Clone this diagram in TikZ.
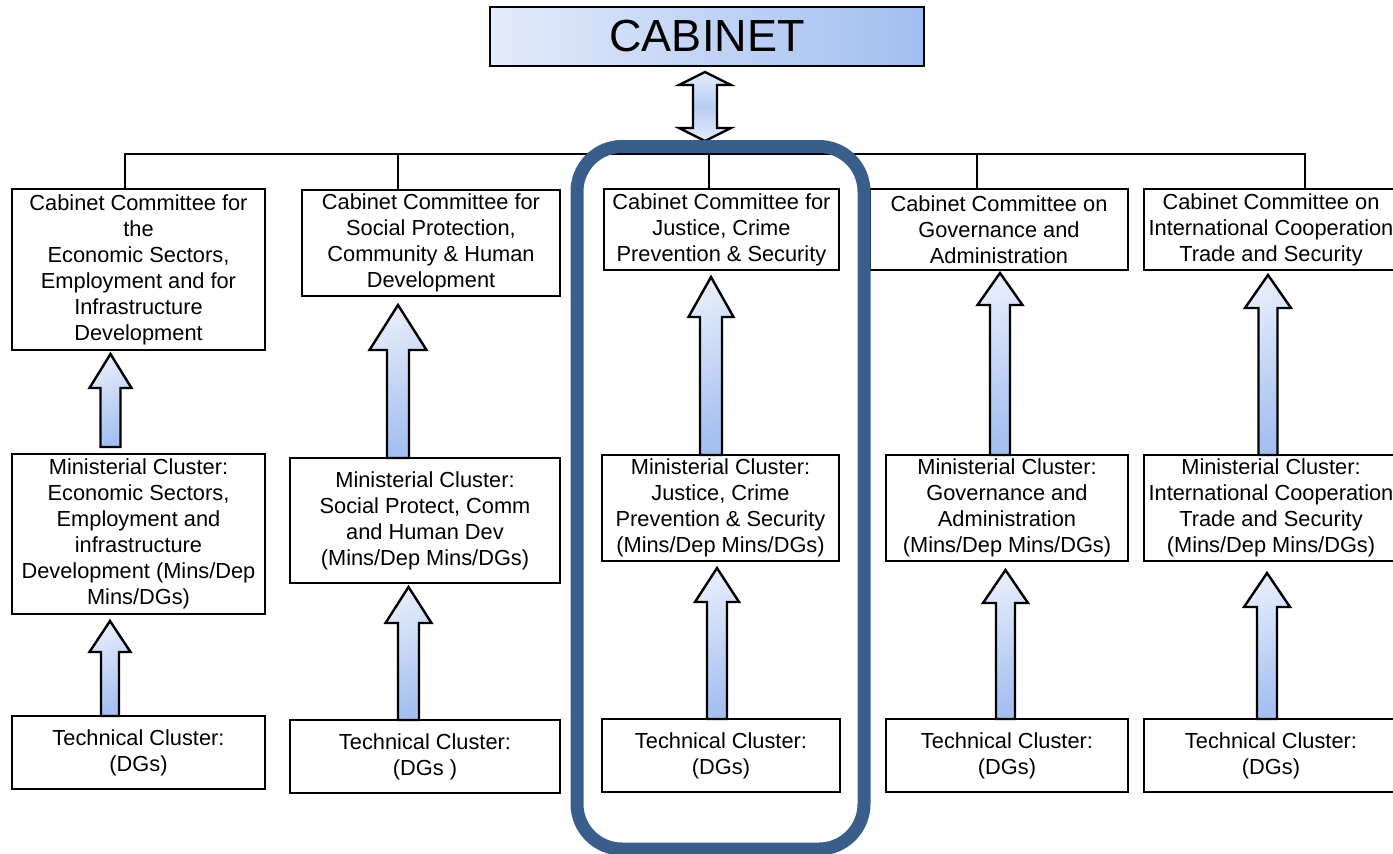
\documentclass[tikz,border=0pt]{standalone}
\usepackage{fontspec}
\setmainfont{Liberation Sans}
\definecolor{arrL}{HTML}{E4ECFB}
\definecolor{arrR}{HTML}{A4BFF0}
\definecolor{frameblue}{HTML}{3A5E8C}
\definecolor{cabL}{HTML}{E2EBFB}
\definecolor{cabR}{HTML}{A2BEF0}
\newcommand{\blockup}[6]{% cx, ytip, ybottom, head half width, shaft half width, head length
  \path[arrowfill] ({#1-#5},{#3}) -- ({#1-#5},{#2+#6}) -- ({#1-#4},{#2+#6}) -- ({#1},{#2})
    -- ({#1+#4},{#2+#6}) -- ({#1+#5},{#2+#6}) -- ({#1+#5},{#3}) -- cycle;}
\begin{document}
\begin{tikzpicture}[x=1pt,y=-1pt,
  box/.style={draw=black, line width=1.8pt, fill=white, inner sep=0pt, align=center,
    font=\fontsize{21.8}{26}\selectfont},
  bus/.style={draw=black, line width=2pt},
  arrowfill/.style={draw=black, line width=2.4pt, line join=miter,
    top color=arrL, bottom color=arrR, shading angle=25},
  focusframe/.style={draw=frameblue, line width=13pt, rounded corners=45pt, inner sep=0pt}]
\useasboundingbox (0,0) rectangle (1393,854);

% Cabinet
\node[draw=black, line width=1.8pt, left color=cabL, right color=cabR, inner sep=0pt,
  minimum width=434pt, minimum height=59pt, font=\fontsize{45}{50}\selectfont] (cab) at (707,36.5) {CABINET};

% Committees
\node[box, minimum width=253pt, minimum height=161pt] (c1) at (138.5,269.5)
  {Cabinet Committee for\\the\\Economic Sectors,\\Employment and for\\Infrastructure\\Development};
\node[box, minimum width=258pt, minimum height=106pt] (c2) at (431,243)
  {Cabinet Committee for\\Social Protection,\\Community \& Human\\Development};
\node[box, minimum width=235pt, minimum height=81pt] (c3) at (721.5,229.5)
  {Cabinet Committee for\\Justice, Crime\\Prevention \& Security};
\node[box, minimum width=258pt, minimum height=81pt] (c4) at (999,229.5)
  {Cabinet Committee on\\Governance and\\Administration};
\node[box, minimum width=254pt, minimum height=81pt] (c5) at (1271,229.5)
  {Cabinet Committee on\\International Cooperation\\Trade and Security};

% Ministerial clusters
\node[box, minimum width=253pt, minimum height=160pt] (m1) at (138.5,534)
  {Ministerial Cluster:\\Economic Sectors,\\Employment and\\infrastructure\\Development (Mins/Dep\\Mins/DGs)};
\node[box, minimum width=270pt, minimum height=125pt] (m2) at (425,520.5)
  {Ministerial Cluster:\\Social Protect, Comm\\and Human Dev\\(Mins/Dep Mins/DGs)};
\node[box, minimum width=237pt, minimum height=106pt] (m3) at (720.5,508)
  {Ministerial Cluster:\\Justice, Crime\\Prevention \& Security\\(Mins/Dep Mins/DGs)};
\node[box, minimum width=242pt, minimum height=106pt] (m4) at (1007,508)
  {Ministerial Cluster:\\Governance and\\Administration\\(Mins/Dep Mins/DGs)};
\node[box, minimum width=254pt, minimum height=106pt] (m5) at (1271,508)
  {Ministerial Cluster:\\International Cooperation\\Trade and Security\\(Mins/Dep Mins/DGs)};

% Technical clusters
\node[box, minimum width=253pt, minimum height=73pt] (t1) at (138.5,752.5) {Technical Cluster:\\(DGs)};
\node[box, minimum width=270pt, minimum height=73pt] (t2) at (425,756.5) {Technical Cluster:\\(DGs )};
\node[box, minimum width=238pt, minimum height=73pt] (t3) at (721,755.5) {Technical Cluster:\\(DGs)};
\node[box, minimum width=242pt, minimum height=73pt] (t4) at (1007,755.5) {Technical Cluster:\\(DGs)};
\node[box, minimum width=254pt, minimum height=73pt] (t5) at (1271,755.5) {Technical Cluster:\\(DGs)};

% Bus line and drops
\coordinate (b1) at (125,154);
\coordinate (b2) at (398,154);
\coordinate (b3) at (709,154);
\coordinate (b4) at (977,154);
\coordinate (b5) at (1305,154);
\draw[bus] (b1 |- c1.north) -- (b1) -- (b5) -- (b5 |- c5.north);
\draw[bus] (b2) -- (b2 |- c2.north);
\draw[bus] (b3) -- (b3 |- c3.north);
\draw[bus] (b4) -- (b4 |- c4.north);

% Cabinet double arrow
\path[arrowfill, top color=arrL, bottom color=arrL, middle color=arrR!70!arrL]
  (705,72) -- (731,85) -- (717,85) -- (717,128) -- (731,128) -- (705,141)
  -- (679,128) -- (693,128) -- (693,85) -- (679,85) -- cycle;

% Block arrows (cx, tip, bottom, head half, shaft half, head length)
\blockup{110.5}{354}{447}{21}{10}{34}
\blockup{110}{621}{716}{20.5}{9}{31}
\blockup{398}{305}{458}{28.5}{11}{45}
\blockup{408.5}{587}{720}{23}{10.5}{36}
\blockup{711}{277}{455}{22.5}{11}{40}
\blockup{717}{568}{719}{22}{10}{34}
\blockup{1000}{273}{455}{22.5}{10}{32}
\blockup{1005.5}{570}{719}{22.5}{9.5}{33}
\blockup{1268}{275}{455}{23}{9.5}{33}
\blockup{1267}{573}{719}{23}{10}{34}

% Highlight frame
\node[focusframe, minimum width=287pt, minimum height=702.5pt] (focus) at (720.5,497.75) {};
\end{tikzpicture}
\end{document}
